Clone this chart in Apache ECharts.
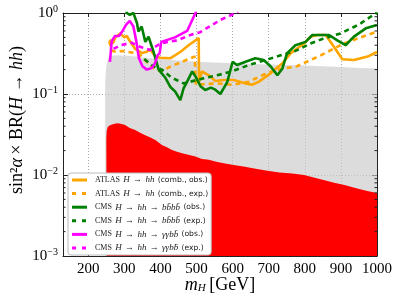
<!DOCTYPE html>
<html><head><meta charset="utf-8">
<script src="https://cdn.jsdelivr.net/npm/echarts@6/dist/echarts.min.js"></script>
<style>html,body{margin:0;padding:0;background:#fff}#c{width:399px;height:303px}</style>
</head><body><div id="c"></div>
<script>
// ---- data (m_H in GeV, sin^2(alpha) x BR) ----
const yTicks = [0.001, 0.01, 0.1, 1];
const xTicks = [200, 300, 400, 500, 600, 700, 800, 900, 1000];
const minorTicks = [2e-3,3e-3,4e-3,5e-3,6e-3,7e-3,8e-3,9e-3,2e-2,3e-2,4e-2,5e-2,6e-2,7e-2,8e-2,9e-2,0.2,0.3,0.4,0.5,0.6,0.7,0.8,0.9];

const greyBand = [[247,0.14],[249,0.2],[252,0.25],[256,0.28],[262,0.295],[280,0.30],[320,0.295],[360,0.28],[400,0.27],[450,0.26],[500,0.25],[550,0.245],[600,0.24],[650,0.235],[700,0.232],[750,0.228],[800,0.225],[850,0.22],[900,0.215],[950,0.21],[1000,0.207]];

const redBand = [[250,0.028],[251,0.035],[254,0.039],[260,0.041],[270,0.0425],[280,0.0435],[290,0.043],[302,0.0414],[315,0.038],[330,0.036],[345,0.033],[358,0.031],[372,0.029],[386,0.027],[404,0.0235],[418,0.022],[432,0.0204],[446,0.0193],[460,0.0185],[480,0.0176],[497,0.0169],[515,0.0158],[534,0.0154],[552,0.0147],[575,0.014],[603,0.0133],[630,0.0127],[660,0.012],[696,0.0113],[730,0.0107],[765,0.0104],[798,0.010],[830,0.0092],[860,0.0085],[881,0.008],[910,0.0075],[940,0.0069],[970,0.0064],[1000,0.006]];

const atlasObs = [[260,0.47],[268,0.42],[275,0.50],[288,0.56],[300,0.50],[307,0.52],[315,0.45],[330,0.36],[349,0.32],[360,0.33],[372,0.35],[386,0.29],[399,0.28],[427,0.276],[455,0.33],[478,0.40],[506,0.49],[507,0.142],[515,0.19],[534,0.17],[552,0.145],[575,0.149],[603,0.149],[636,0.135],[654,0.13],[673,0.142],[705,0.18],[738,0.24],[761,0.32],[798,0.42],[816,0.51],[835,0.535],[858,0.535],[881,0.38],[904,0.268],[936,0.263],[974,0.29],[1000,0.33]];

const atlasExp = [[258,0.45],[266,0.34],[280,0.33],[295,0.34],[310,0.33],[330,0.32],[345,0.30],[362,0.25],[380,0.21],[400,0.19],[430,0.22],[460,0.25],[495,0.29],[498,0.13],[530,0.133],[560,0.135],[600,0.13],[645,0.142],[682,0.17],[720,0.198],[778,0.22],[844,0.30],[908,0.42],[1000,0.59]];

const cmsBbObs = [[300,1.5],[307,1.0],[315,0.95],[325,1.0],[335,0.75],[339,0.59],[348,0.68],[358,0.44],[367,0.51],[381,0.33],[395,0.2],[413,0.16],[427,0.123],[441,0.107],[455,0.084],[464,0.117],[474,0.142],[488,0.19],[497,0.165],[511,0.125],[524,0.112],[540,0.12],[552,0.113],[566,0.10],[585,0.14],[600,0.25],[612,0.228],[636,0.25],[663,0.276],[686,0.263],[705,0.22],[724,0.17],[738,0.207],[751,0.32],[774,0.40],[802,0.44],[821,0.535],[844,0.535],[867,0.535],[890,0.46],[913,0.40],[936,0.51],[969,0.647],[1000,0.71]];

const cmsBbExp = [[355,0.27],[380,0.22],[404,0.2],[430,0.16],[464,0.135],[483,0.142],[519,0.156],[557,0.17],[598,0.19],[645,0.228],[691,0.263],[733,0.30],[774,0.34],[816,0.42],[850,0.48],[899,0.56],[950,0.72],[990,0.95],[1000,1.0]];

const cmsGgObs = [[260,0.25],[265,0.45],[274,0.52],[285,0.52],[295,0.6],[305,0.72],[315,0.8],[325,0.68],[333,0.45],[340,0.28],[350,0.22],[362,0.2],[376,0.21],[385,0.24],[392,0.30],[398,0.32],[402,0.44],[440,0.50],[474,0.60],[497,1.0],[505,1.2]];

const cmsGgExp = [[270,0.36],[290,0.40],[320,0.43],[345,0.38],[372,0.35],[400,0.42],[446,0.46],[483,0.535],[510,0.58],[566,0.82],[608,1.0],[615,1.05]];

const names = {
  aO: 'ATLAS H → hh (comb., obs.)',
  aE: 'ATLAS H → hh (comb., exp.)',
  bO: 'CMS H → hh → bb̄bb̄ (obs.)',
  bE: 'CMS H → hh → bb̄bb̄ (exp.)',
  gO: 'CMS H → hh → γγbb̄ (obs.)',
  gE: 'CMS H → hh → γγbb̄ (exp.)'
};
const legendRich = {};
legendRich[names.aO] = '{sc|ATLAS} {it|H} {r|→} {it|hh} {sf|(comb., obs.)}';
legendRich[names.aE] = '{sc|ATLAS} {it|H} {r|→} {it|hh} {sf|(comb., exp.)}';
legendRich[names.bO] = '{sc|CMS} {it|H} {r|→} {it|hh} {r|→} {it|bb̄bb̄} {sf|(obs.)}';
legendRich[names.bE] = '{sc|CMS} {it|H} {r|→} {it|hh} {r|→} {it|bb̄bb̄} {sf|(exp.)}';
legendRich[names.gO] = '{sc|CMS} {it|H} {r|→} {it|hh} {r|→} {it|γγbb̄} {sf|(obs.)}';
legendRich[names.gE] = '{sc|CMS} {it|H} {r|→} {it|hh} {r|→} {it|γγbb̄} {sf|(exp.)}';

const SERIF = 'Liberation Serif';
const chart = echarts.init(document.getElementById('c'), null, {renderer:'canvas'});
const xMin = 130, xMax = 1000;
const axisCol = '#222';
const gridLine = {show:true, lineStyle:{color:'#aaa', type:[1,2], width:1}};
const SOLID_ICON = 'path://M0,0h15v3h-15z';
const DASH_ICON = 'path://M0,0h4v3h-4z M10,0h4v3h-4z M14,0h1v0h-1z';

function line(name, data, color, dashed) {
  return {type:'line', name, data, symbol:'none', clip:true, z:5,
    lineStyle:{color, width:2.6, type: dashed ? [5,4] : 'solid'},
    itemStyle:{color}};
}

chart.setOption({
  animation:false,
  grid:{left:63, right:22, top:13, bottom:47},
  xAxis:[{type:'value', min:xMin, max:xMax, splitNumber:9,
      axisLine:{show:true, lineStyle:{color:axisCol}},
      axisTick:{show:true, inside:true, length:4, lineStyle:{color:axisCol}},
      axisLabel:{showMinLabel:false, fontFamily:SERIF, fontSize:15, color:'#000', margin:6,
        formatter: v => String(v)},
      splitLine:gridLine},
    {type:'value', position:'top', min:xMin, max:xMax, splitNumber:9,
      axisLine:{show:true, lineStyle:{color:axisCol}},
      axisTick:{show:true, inside:true, length:4, lineStyle:{color:axisCol}},
      axisLabel:{show:false}, splitLine:{show:false}}],
  yAxis:[{type:'log', logBase:10, min:0.001, max:1,
      axisLine:{show:true, lineStyle:{color:axisCol}},
      axisTick:{show:true, inside:true, length:5, lineStyle:{color:axisCol}},
      axisLabel:{margin:5, color:'#000', formatter: v => {
          const e = Math.round(Math.log10(v));
          return '{b|10}{s|' + (e === 0 ? '0' : '−' + (-e)) + '}';
        },
        rich:{b:{fontFamily:SERIF, fontSize:15, color:'#000', lineHeight:18},
              s:{fontFamily:SERIF, fontSize:10, color:'#000', verticalAlign:'top', lineHeight:12}}},
      splitLine:gridLine},
    {type:'log', logBase:10, min:0.001, max:1, position:'right',
      axisLine:{show:true, lineStyle:{color:axisCol}},
      axisTick:{show:true, inside:true, length:5, lineStyle:{color:axisCol}},
      axisLabel:{show:false}, splitLine:{show:false}}],
  legend:{orient:'vertical', left:68, top:173, padding:[1,3,1,4], itemGap:1.6,
    itemWidth:15, itemHeight:3, backgroundColor:'#fff', borderColor:'#bbb', borderWidth:1, borderRadius:3,
    data:[{name:names.aO, icon:SOLID_ICON},{name:names.aE, icon:DASH_ICON},
          {name:names.bO, icon:SOLID_ICON},{name:names.bE, icon:DASH_ICON},
          {name:names.gO, icon:SOLID_ICON},{name:names.gE, icon:DASH_ICON}],
    formatter: n => legendRich[n],
    textStyle:{padding:[0,0,0,3], lineHeight:11.5, rich:{
      sc:{fontFamily:SERIF, fontSize:8, color:'#222', lineHeight:11.5},
      it:{fontFamily:SERIF, fontStyle:'italic', fontSize:9, color:'#222', lineHeight:11.5},
      r:{fontFamily:SERIF, fontSize:9, color:'#222', lineHeight:11.5},
      sf:{fontFamily:'DejaVu Sans', fontSize:7.6, color:'#222', lineHeight:11.5}}}},
  graphic:[
    {type:'text', x:220, y:285, style:{
      text:'{i|m}{sub|H} {r|[GeV]}', fill:'#000', align:'center', verticalAlign:'middle',
      rich:{i:{fontFamily:SERIF, fontStyle:'italic', fontSize:18}, sub:{fontFamily:SERIF, fontStyle:'italic', fontSize:11, verticalAlign:'bottom'}, r:{fontFamily:SERIF, fontSize:18}}}},
    {type:'text', x:17, y:120, rotation:Math.PI/2, style:{
      text:'{r|sin²}{i|α} {r|× BR(}{i|H}{r| → }{i|hh}{r|)}', align:'center', verticalAlign:'middle', fill:'#000',
      rich:{i:{fontFamily:SERIF, fontStyle:'italic', fontSize:18}, r:{fontFamily:SERIF, fontSize:18}}}}
  ],
  series:[
    {type:'line', data:greyBand, symbol:'none', silent:true, z:1,
      lineStyle:{width:0}, areaStyle:{color:'#c9c9c9', opacity:0.65, origin:'start'}},
    {type:'line', data:redBand, symbol:'none', silent:true, z:2,
      lineStyle:{width:0}, areaStyle:{color:'#ff0000', opacity:1, origin:'start'}},
    line(names.aO, atlasObs, '#ffa500', false),
    line(names.aE, atlasExp, '#ffa500', true),
    line(names.bO, cmsBbObs, '#008000', false),
    line(names.bE, cmsBbExp, '#008000', true),
    line(names.gO, cmsGgObs, '#ff00ff', false),
    line(names.gE, cmsGgExp, '#ff00ff', true),
    {type:'custom', silent:true, z:6, data:minorTicks.map(v => [xMin, v]),
      renderItem:(params, api) => {
        const v = api.value(1);
        const pL = api.coord([xMin, v]);
        const pR = api.coord([xMax, v]);
        return {type:'group', children:[
          {type:'line', shape:{x1:pL[0], y1:pL[1], x2:pL[0]+2.5, y2:pL[1]}, style:{stroke:axisCol, lineWidth:1}},
          {type:'line', shape:{x1:pR[0], y1:pR[1], x2:pR[0]-2.5, y2:pR[1]}, style:{stroke:axisCol, lineWidth:1}}
        ]};
      }}
  ]
});
</script></body></html>
